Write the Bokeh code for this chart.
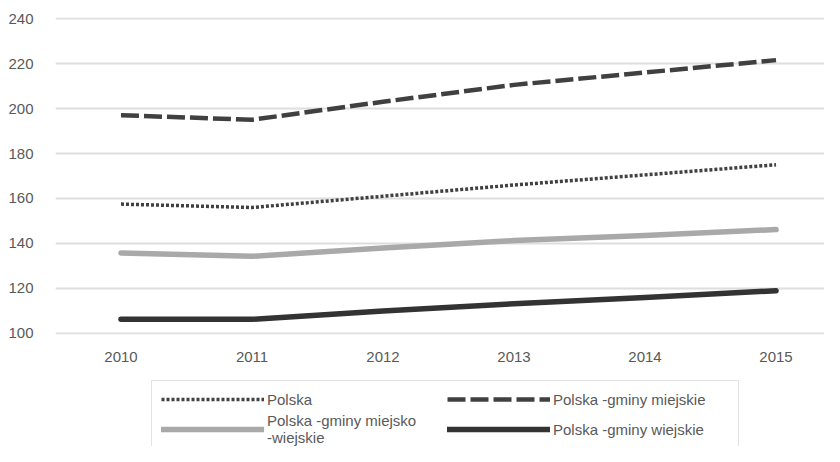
from bokeh.plotting import figure
from bokeh.layouts import column
from bokeh.models import Legend, LegendItem, Range1d
from bokeh.embed import file_html
from bokeh.resources import INLINE

years = [2010, 2011, 2012, 2013, 2014, 2015]
polska = [157.5, 156.0, 161.0, 166.0, 170.5, 175.0]
miejskie = [197.0, 195.0, 203.0, 210.5, 216.0, 221.5]
miejsko_wiejskie = [135.8, 134.3, 138.0, 141.3, 143.5, 146.2]
wiejskie = [106.3, 106.3, 110.0, 113.2, 116.0, 119.0]
y_ticks = [100, 120, 140, 160, 180, 200, 220, 240]
labels = ["Polska", "Polska -gminy miejskie",
          "Polska -gminy miejsko\n-wiejskie", "Polska -gminy wiejskie"]

FONT = "Liberation Sans"
TXT = "#595959"
W = 824

styles = [
    dict(line_color="#404040", line_width=3.5, line_dash="3 2"),
    dict(line_color="#404040", line_width=4.5, line_dash="18 5"),
    dict(line_color="#a9a9a9", line_width=5.5, line_cap="round", line_join="round"),
    dict(line_color="#333333", line_width=5.5, line_cap="round", line_join="round"),
]

p = figure(width=W, height=370, x_range=Range1d(2009.5, 2015.37),
           y_range=Range1d(99.55, 240.45), output_backend="svg",
           toolbar_location=None, min_border_left=55, min_border_right=0,
           min_border_top=17, min_border_bottom=36)
p.outline_line_color = None
p.border_fill_color = "white"

for series, st in zip([polska, miejskie, miejsko_wiejskie, wiejskie], styles):
    p.line(years, series, **st)

p.xgrid.grid_line_color = None
p.ygrid.grid_line_color = "#dedede"
p.ygrid.grid_line_width = 2
p.yaxis.ticker = y_ticks
p.xaxis.ticker = years

for ax in (p.xaxis[0], p.yaxis[0]):
    ax.axis_line_color = None
    ax.major_tick_line_color = None
    ax.minor_tick_line_color = None
    ax.major_tick_out = 0
    ax.major_tick_in = 0
    ax.major_label_text_font = FONT
    ax.major_label_text_font_size = "15px"
    ax.major_label_text_color = TXT
p.yaxis.major_label_standoff = 22
p.xaxis.major_label_standoff = 17

# legend strip below the chart
lh = 76
q = figure(width=W, height=lh, x_range=Range1d(0, 1), y_range=Range1d(0, 1),
           x_axis_location=None, y_axis_location=None,
           output_backend="svg", toolbar_location=None,
           min_border_left=0, min_border_right=0, min_border_top=0, min_border_bottom=0)
q.grid.visible = False
q.outline_line_color = None
q.border_fill_color = "white"
items = []
for lab, st in zip(labels, styles):
    r = q.line([-5, -4], [-5, -5], **st)
    items.append(LegendItem(label=lab, renderers=[r]))

legend = Legend(items=items, ncols=2, location=(96, -10), orientation="horizontal",
                glyph_width=103, glyph_height=18, label_height=18, label_width=176,
                label_standoff=3, spacing=4, padding=9, margin=0,
                label_text_font=FONT, label_text_font_size="15px", label_text_color=TXT,
                label_text_line_height=1.1,
                border_line_color="#c8c8c8", border_line_width=1,
                background_fill_color="white", background_fill_alpha=1)
q.add_layout(legend, "center")

layout = column(p, q, spacing=0)
open("out.html", "w").write(file_html(layout, INLINE))
